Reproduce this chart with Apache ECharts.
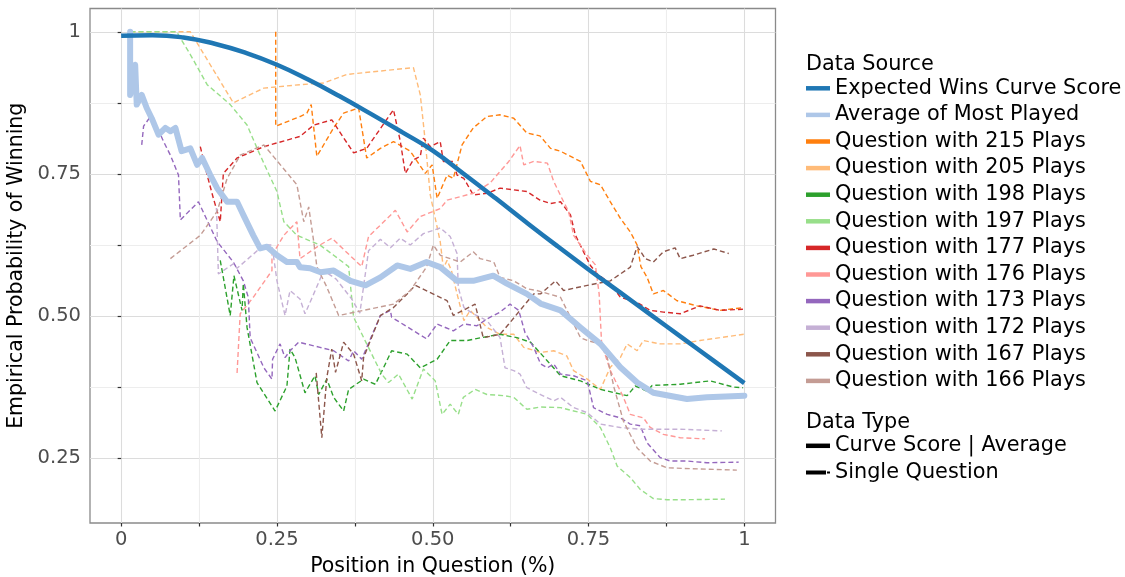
<!DOCTYPE html>
<html>
<head>
<meta charset="utf-8">
<script src="https://cdn.jsdelivr.net/npm/echarts@6/dist/echarts.min.js"></script>
<style>html,body{margin:0;padding:0;background:#fff;}#c{width:1125px;height:577px;}</style>
</head>
<body>
<div id="c"></div>
<script>
const xTickValues = [0, 0.125, 0.25, 0.375, 0.5, 0.625, 0.75, 0.875, 1];
const xLabelValues = [0, 0.25, 0.5, 0.75, 1];
const yTickValues = [0.25, 0.375, 0.5, 0.625, 0.75, 0.875, 1];
const yLabelValues = [0.25, 0.5, 0.75, 1];

const expectedWins = [[0,0.993],[0.05,0.994],[0.1,0.99],[0.15,0.979],[0.2,0.963],[0.25,0.942],[0.3,0.916],[0.35,0.887],[0.4,0.856],[0.45,0.824],[0.5,0.791],[0.55,0.75],[0.6,0.708],[0.65,0.665],[0.7,0.623],[0.75,0.582],[0.8,0.542],[0.85,0.502],[0.9,0.462],[0.95,0.422],[1,0.382]];
const averageMostPlayed = [[0.0144,1.0],[0.0144,0.889],[0.0225,0.942],[0.025,0.872],[0.033,0.889],[0.041,0.866],[0.049,0.848],[0.06,0.819],[0.071,0.831],[0.079,0.825],[0.087,0.831],[0.097,0.79],[0.111,0.795],[0.122,0.766],[0.13,0.778],[0.143,0.748],[0.154,0.725],[0.17,0.701],[0.186,0.701],[0.196,0.678],[0.212,0.642],[0.223,0.619],[0.234,0.622],[0.25,0.607],[0.266,0.595],[0.282,0.595],[0.287,0.586],[0.303,0.584],[0.32,0.577],[0.341,0.58],[0.368,0.562],[0.392,0.554],[0.416,0.568],[0.443,0.589],[0.464,0.583],[0.49,0.595],[0.512,0.586],[0.539,0.562],[0.565,0.562],[0.597,0.571],[0.619,0.557],[0.651,0.539],[0.673,0.522],[0.705,0.51],[0.737,0.48],[0.769,0.451],[0.801,0.41],[0.828,0.383],[0.854,0.365],[0.908,0.354],[0.94,0.357],[1.0,0.36]];
const q215 = [[0.248,1.0],[0.248,0.834],[0.287,0.851],[0.298,0.857],[0.305,0.872],[0.314,0.781],[0.341,0.831],[0.357,0.857],[0.381,0.866],[0.394,0.778],[0.416,0.795],[0.437,0.807],[0.464,0.79],[0.488,0.751],[0.499,0.766],[0.507,0.707],[0.523,0.748],[0.533,0.742],[0.547,0.801],[0.565,0.831],[0.587,0.851],[0.608,0.854],[0.63,0.848],[0.651,0.822],[0.672,0.817],[0.689,0.795],[0.705,0.79],[0.737,0.772],[0.753,0.737],[0.769,0.731],[0.785,0.701],[0.801,0.672],[0.817,0.648],[0.828,0.625],[0.834,0.587],[0.844,0.568],[0.854,0.539],[0.87,0.545],[0.892,0.527],[0.924,0.518],[0.961,0.51],[0.999,0.515]];
const q205 = [[0.015,1.0],[0.111,1.0],[0.18,0.875],[0.229,0.901],[0.287,0.907],[0.325,0.91],[0.362,0.925],[0.469,0.937],[0.48,0.889],[0.488,0.807],[0.496,0.713],[0.512,0.631],[0.517,0.584],[0.523,0.598],[0.53,0.58],[0.539,0.539],[0.55,0.492],[0.56,0.51],[0.571,0.498],[0.587,0.48],[0.608,0.468],[0.63,0.468],[0.646,0.445],[0.673,0.436],[0.694,0.439],[0.715,0.43],[0.726,0.404],[0.748,0.389],[0.769,0.371],[0.785,0.41],[0.801,0.427],[0.812,0.451],[0.828,0.439],[0.838,0.457],[0.865,0.451],[0.897,0.451],[0.929,0.457],[0.961,0.462],[0.999,0.468]];
const q198 = [[0.159,0.598],[0.175,0.501],[0.181,0.571],[0.194,0.51],[0.196,0.557],[0.202,0.48],[0.218,0.383],[0.247,0.333],[0.266,0.377],[0.271,0.442],[0.279,0.427],[0.295,0.365],[0.311,0.395],[0.317,0.362],[0.33,0.389],[0.341,0.357],[0.357,0.333],[0.365,0.371],[0.389,0.389],[0.408,0.38],[0.421,0.409],[0.434,0.439],[0.459,0.433],[0.48,0.409],[0.507,0.424],[0.528,0.457],[0.555,0.457],[0.578,0.462],[0.608,0.468],[0.635,0.462],[0.657,0.454],[0.684,0.421],[0.705,0.395],[0.737,0.386],[0.769,0.371],[0.812,0.36],[0.825,0.377],[0.844,0.368],[0.852,0.378],[0.897,0.38],[0.945,0.386],[0.983,0.375],[0.998,0.374]];
const q197 = [[0.015,1.0],[0.089,1.0],[0.111,0.96],[0.138,0.907],[0.175,0.872],[0.202,0.836],[0.223,0.783],[0.25,0.719],[0.261,0.666],[0.282,0.642],[0.319,0.625],[0.341,0.607],[0.365,0.587],[0.373,0.498],[0.394,0.451],[0.418,0.398],[0.429,0.383],[0.445,0.398],[0.467,0.354],[0.485,0.407],[0.504,0.386],[0.515,0.327],[0.528,0.345],[0.541,0.327],[0.549,0.357],[0.568,0.371],[0.587,0.362],[0.614,0.36],[0.63,0.357],[0.651,0.336],[0.673,0.34],[0.705,0.339],[0.748,0.327],[0.769,0.304],[0.785,0.268],[0.796,0.236],[0.817,0.216],[0.833,0.195],[0.854,0.179],[0.876,0.177],[0.908,0.177],[0.969,0.178]];
const q177 = [[0.127,0.798],[0.138,0.748],[0.148,0.707],[0.159,0.666],[0.164,0.751],[0.186,0.778],[0.229,0.798],[0.287,0.816],[0.309,0.836],[0.338,0.845],[0.373,0.787],[0.394,0.795],[0.437,0.863],[0.448,0.807],[0.456,0.751],[0.469,0.775],[0.48,0.781],[0.485,0.813],[0.496,0.798],[0.512,0.807],[0.517,0.772],[0.533,0.772],[0.539,0.748],[0.55,0.742],[0.565,0.713],[0.587,0.716],[0.608,0.725],[0.63,0.722],[0.651,0.719],[0.672,0.704],[0.689,0.698],[0.705,0.701],[0.721,0.678],[0.729,0.642],[0.742,0.613],[0.753,0.589],[0.764,0.574],[0.785,0.557],[0.801,0.533],[0.828,0.524],[0.849,0.51],[0.87,0.507],[0.897,0.504],[0.929,0.518],[0.961,0.51],[0.999,0.512]];
const q176 = [[0.186,0.4],[0.191,0.504],[0.212,0.533],[0.242,0.58],[0.242,0.607],[0.261,0.642],[0.282,0.666],[0.287,0.601],[0.319,0.625],[0.338,0.637],[0.386,0.587],[0.397,0.64],[0.416,0.66],[0.44,0.686],[0.459,0.648],[0.48,0.675],[0.512,0.689],[0.523,0.704],[0.565,0.716],[0.592,0.734],[0.622,0.772],[0.64,0.8],[0.646,0.766],[0.662,0.772],[0.684,0.769],[0.694,0.737],[0.71,0.701],[0.718,0.684],[0.726,0.642],[0.748,0.607],[0.761,0.59],[0.767,0.539],[0.771,0.451],[0.785,0.404],[0.806,0.357],[0.817,0.327],[0.838,0.321],[0.849,0.304],[0.87,0.292],[0.897,0.286],[0.937,0.284]];
const q173 = [[0.033,0.801],[0.036,0.834],[0.049,0.854],[0.068,0.807],[0.079,0.783],[0.092,0.748],[0.095,0.669],[0.124,0.701],[0.154,0.631],[0.18,0.595],[0.196,0.562],[0.204,0.533],[0.207,0.462],[0.229,0.409],[0.242,0.389],[0.243,0.424],[0.255,0.451],[0.263,0.427],[0.271,0.439],[0.285,0.454],[0.319,0.445],[0.341,0.439],[0.365,0.421],[0.373,0.439],[0.386,0.424],[0.416,0.501],[0.432,0.51],[0.434,0.498],[0.49,0.46],[0.507,0.486],[0.533,0.474],[0.55,0.486],[0.571,0.483],[0.587,0.495],[0.608,0.507],[0.624,0.521],[0.638,0.51],[0.648,0.471],[0.662,0.445],[0.673,0.416],[0.684,0.409],[0.694,0.416],[0.705,0.398],[0.726,0.395],[0.748,0.386],[0.758,0.339],[0.78,0.327],[0.801,0.321],[0.817,0.31],[0.833,0.307],[0.844,0.277],[0.865,0.251],[0.881,0.245],[0.908,0.245],[0.94,0.242],[0.991,0.243]];
const q172 = [[0.153,0.69],[0.156,0.574],[0.18,0.592],[0.186,0.584],[0.229,0.625],[0.242,0.625],[0.25,0.562],[0.263,0.501],[0.271,0.545],[0.287,0.53],[0.295,0.504],[0.309,0.539],[0.325,0.58],[0.345,0.565],[0.37,0.53],[0.383,0.505],[0.39,0.56],[0.397,0.615],[0.416,0.635],[0.432,0.62],[0.448,0.637],[0.464,0.625],[0.485,0.645],[0.512,0.655],[0.528,0.64],[0.539,0.61],[0.541,0.55],[0.55,0.515],[0.565,0.504],[0.587,0.492],[0.608,0.462],[0.616,0.409],[0.63,0.404],[0.64,0.398],[0.651,0.374],[0.673,0.362],[0.694,0.351],[0.705,0.357],[0.726,0.339],[0.748,0.33],[0.769,0.31],[0.801,0.304],[0.833,0.301],[0.865,0.301],[0.897,0.301],[0.964,0.298]];
const q167 = [[0.313,0.4],[0.322,0.286],[0.33,0.392],[0.338,0.442],[0.344,0.401],[0.357,0.454],[0.373,0.433],[0.386,0.386],[0.389,0.427],[0.416,0.501],[0.437,0.515],[0.459,0.539],[0.472,0.554],[0.523,0.527],[0.533,0.501],[0.568,0.521],[0.581,0.462],[0.608,0.468],[0.622,0.486],[0.64,0.51],[0.662,0.539],[0.673,0.539],[0.697,0.562],[0.71,0.545],[0.748,0.554],[0.785,0.562],[0.801,0.574],[0.817,0.586],[0.828,0.622],[0.834,0.613],[0.841,0.601],[0.854,0.595],[0.87,0.613],[0.889,0.62],[0.897,0.601],[0.918,0.607],[0.951,0.618],[0.975,0.61]];
const q166 = [[0.079,0.601],[0.127,0.642],[0.154,0.684],[0.17,0.742],[0.191,0.783],[0.229,0.801],[0.282,0.731],[0.293,0.666],[0.301,0.692],[0.309,0.631],[0.314,0.587],[0.33,0.551],[0.349,0.501],[0.437,0.521],[0.464,0.545],[0.49,0.586],[0.501,0.625],[0.512,0.607],[0.544,0.595],[0.565,0.613],[0.576,0.601],[0.598,0.595],[0.608,0.568],[0.63,0.562],[0.651,0.548],[0.667,0.545],[0.705,0.533],[0.721,0.498],[0.737,0.462],[0.748,0.457],[0.769,0.451],[0.78,0.427],[0.791,0.374],[0.806,0.315],[0.828,0.268],[0.849,0.245],[0.876,0.233],[0.988,0.229]];

const questionNames = ['Question with 215 Plays','Question with 205 Plays','Question with 198 Plays','Question with 197 Plays','Question with 177 Plays','Question with 176 Plays','Question with 173 Plays','Question with 172 Plays','Question with 167 Plays','Question with 166 Plays'];
const questionData = [q215, q205, q198, q197, q177, q176, q173, q172, q167, q166];
const questionColors = ['#ff7f0e','#ffbb78','#2ca02c','#98df8a','#d62728','#ff9896','#9467bd','#c5b0d5','#8c564b','#c49c94'];
const dataTypeNames = ['Curve Score | Average', 'Single Question'];

const FONT = 'DejaVu Sans';
const fmt = v => (v === 0 ? '0' : v === 1 ? '1' : v.toFixed(2));

const series = [];
questionData.forEach((d, i) => {
  series.push({
    name: questionNames[i], type: 'line', data: d, symbol: 'none', z: 2,
    color: questionColors[i],
    lineStyle: { color: questionColors[i], width: 1.4, type: [5, 3] }
  });
});
series.push({ name: 'Average of Most Played', type: 'line', data: averageMostPlayed, symbol: 'none', z: 3,
  color: '#aec7e8', lineStyle: { color: '#aec7e8', width: 6, join: 'round', cap: 'round' } });
series.push({ name: 'Expected Wins Curve Score', type: 'line', data: expectedWins, symbol: 'none', smooth: true, z: 4,
  color: '#1f77b4', lineStyle: { color: '#1f77b4', width: 4.5 } });
series.push({ name: dataTypeNames[0], type: 'line', data: [], color: '#000' });
series.push({ name: dataTypeNames[1], type: 'line', data: [], color: '#000' });

const legendText = { fontSize: 20.8, fontFamily: FONT, color: '#000', lineHeight: 26.6 };

const chart = echarts.init(document.getElementById('c'), null, { renderer: 'canvas' });
chart.setOption({
  animation: false,
  backgroundColor: '#fff',
  grid: { left: 90, top: 8.5, width: 685.5, height: 514.5, outerBoundsMode: 'none', containLabel: false,
    show: true, borderColor: '#8a8a8a', borderWidth: 1.3, backgroundColor: 'transparent' },
  xAxis: {
    type: 'value', min: -0.05, max: 1.05,
    name: 'Position in Question (%)', nameLocation: 'middle', nameGap: 33,
    nameTextStyle: { fontSize: 20.5, fontFamily: FONT, color: '#000' },
    axisLine: { show: false },
    axisTick: { show: true, inside: false, length: 3.5, customValues: xTickValues, lineStyle: { color: '#333', width: 1.2 } },
    axisLabel: { customValues: xLabelValues, formatter: fmt, fontSize: 19.5, fontFamily: FONT, color: '#4d4d4d', margin: 7 },
    splitLine: { show: true, lineStyle: { color: ['#dcdcdc', '#ededed'], width: 1.1 } }
  },
  yAxis: {
    type: 'value', min: 0.136, max: 1.041,
    name: 'Empirical Probability of Winning', nameLocation: 'middle', nameGap: 60, nameRotate: 90,
    nameTextStyle: { fontSize: 20.5, fontFamily: FONT, color: '#000' },
    axisLine: { show: false },
    axisTick: { show: true, inside: false, length: 3.5, customValues: yTickValues, lineStyle: { color: '#333', width: 1.2 } },
    axisLabel: { customValues: yLabelValues, formatter: fmt, fontSize: 19.5, fontFamily: FONT, color: '#4d4d4d', margin: 9 },
    splitLine: { show: true, lineStyle: { color: ['#dcdcdc', '#ededed'], width: 1.1 } }
  },
  legend: [
    {
      data: ['Expected Wins Curve Score', 'Average of Most Played'].concat(questionNames),
      orient: 'vertical', left: 806, top: 75, padding: 0, itemGap: 0,
      itemWidth: 24, itemHeight: 4.5, icon: 'rect', selectedMode: false,
      textStyle: legendText
    },
    {
      data: [{ name: dataTypeNames[0], icon: 'rect' }, { name: dataTypeNames[1], icon: 'path://M0,0H20V4H0ZM21,1H24V3H21Z' }],
      orient: 'vertical', left: 806, top: 432.5, padding: 0, itemGap: 0,
      itemWidth: 24, itemHeight: 4.5, selectedMode: false,
      textStyle: legendText
    }
  ],
  graphic: [
    { type: 'text', left: 806, top: 54, style: { text: 'Data Source', font: '20.8px "DejaVu Sans"', fill: '#000' } },
    { type: 'text', left: 806, top: 412, style: { text: 'Data Type', font: '20.8px "DejaVu Sans"', fill: '#000' } }
  ],
  series: series
});
</script>
</body>
</html>
